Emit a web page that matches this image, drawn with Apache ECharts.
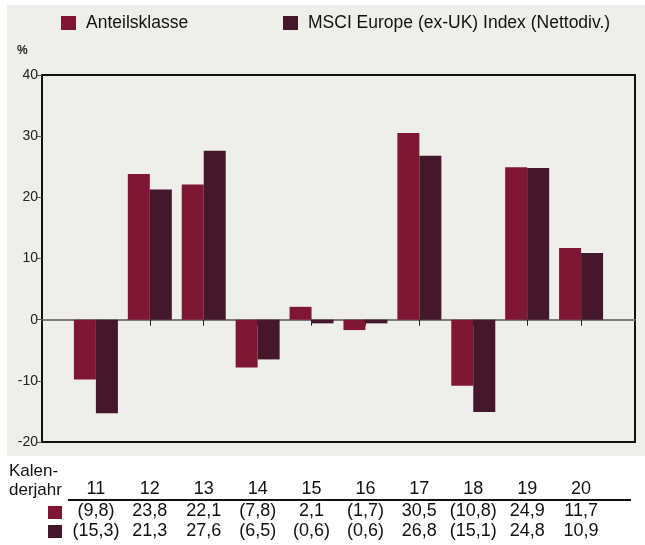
<!DOCTYPE html>
<html>
<head>
<meta charset="utf-8">
<script src="https://cdn.jsdelivr.net/npm/echarts@6/dist/echarts.min.js"></script>
<style>
  html, body { margin: 0; padding: 0; background: #fff; }
  #chart { width: 645px; height: 545px; }
</style>
</head>
<body>
<div id="chart"></div>
<script>
const years = ['11', '12', '13', '14', '15', '16', '17', '18', '19', '20']
const shareClass = [-9.8, 23.8, 22.1, -7.8, 2.1, -1.7, 30.5, -10.8, 24.9, 11.7]
const benchmark = [-15.3, 21.3, 27.6, -6.5, -0.6, -0.6, 26.8, -15.1, 24.8, 10.9]
const seriesNames = ['Anteilsklasse', 'MSCI Europe (ex-UK) Index (Nettodiv.)']
const yTicks = { min: -20, max: 40, step: 10 }

const RED = '#7f1634'
const DARK = '#45172a'
const FONT = "'Liberation Sans Narrow', 'Arial Narrow', 'Liberation Sans', sans-serif"

// one empty slot before and after so the bar pairs sit on the boundaries
const pad = (arr, blank) => [blank, ...arr, blank]
const categories = pad(years, '')

function fmt(v) {
  const s = Math.abs(v).toFixed(1).replace('.', ',')
  return v < 0 ? '(' + s + ')' : s
}

function tableAxis(labels, offset) {
  return {
    type: 'category',
    data: pad(labels, ''),
    boundaryGap: false,
    position: 'bottom',
    offset: offset,
    axisLine: { show: false },
    axisTick: { show: false },
    axisLabel: { interval: 0, margin: 0, color: '#111', fontFamily: FONT, fontSize: 18 },
  }
}

function legendFor(name, left) {
  return {
    left: left,
    top: 9,
    itemWidth: 15,
    itemHeight: 14,
    icon: 'rect',
    textStyle: { fontSize: 17.5, color: '#111', fontFamily: FONT, padding: [0, 0, 0, 5] },
    data: [name],
  }
}

const chart = echarts.init(document.getElementById('chart'))
chart.setOption({
  backgroundColor: '#fff',
  animation: false,
  textStyle: { fontFamily: FONT },
  legend: [legendFor(seriesNames[0], 56), legendFor(seriesNames[1], 278)],
  grid: {
    left: 42,
    right: 10,
    top: 75,
    bottom: 103,
    show: true,
    borderColor: '#111',
    borderWidth: 2,
    backgroundColor: 'transparent',
  },
  xAxis: [
    {
      type: 'category',
      data: categories,
      boundaryGap: false,
      axisLine: { onZero: true, lineStyle: { color: '#7a7a7a', width: 2, type: [3, 1] } },
      axisTick: { show: true, length: 6, lineStyle: { color: '#222', width: 1 } },
      axisLabel: { show: false },
    },
    tableAxis(years, 38),
    tableAxis(shareClass.map(fmt), 60),
    tableAxis(benchmark.map(fmt), 80),
  ],
  yAxis: {
    type: 'value',
    min: yTicks.min,
    max: yTicks.max,
    interval: yTicks.step,
    axisLine: { show: true, lineStyle: { color: '#111', width: 2 } },
    axisTick: { show: true, length: 6, lineStyle: { color: '#555', width: 1 } },
    axisLabel: { color: '#222', fontSize: 14, margin: 4, fontFamily: FONT },
    splitLine: { show: false },
  },
  series: [
    {
      name: seriesNames[0],
      type: 'bar',
      data: pad(shareClass, null),
      barWidth: 22,
      barGap: '0%',
      itemStyle: { color: RED },
    },
    {
      name: seriesNames[1],
      type: 'bar',
      data: pad(benchmark, null),
      barWidth: 22,
      itemStyle: { color: DARK },
    },
  ],
  graphic: [
    { type: 'rect', z: -100, shape: { x: 7, y: 5, width: 638, height: 451 }, style: { fill: '#eeeeea' } },
    { type: 'text', left: 17, top: 45, style: { text: '%', fill: '#222', font: 'bold 12px ' + FONT } },
    { type: 'text', left: 9, top: 462, style: { text: 'Kalen-\nderjahr', fill: '#111', font: '17px ' + FONT, lineHeight: 19 } },
    { type: 'line', shape: { x1: 68, y1: 500, x2: 631, y2: 500 }, style: { stroke: '#111', lineWidth: 2 } },
    { type: 'rect', shape: { x: 48, y: 506, width: 14, height: 13 }, style: { fill: RED } },
    { type: 'rect', shape: { x: 48, y: 525, width: 14, height: 13 }, style: { fill: DARK } },
  ],
})
</script>
</body>
</html>
